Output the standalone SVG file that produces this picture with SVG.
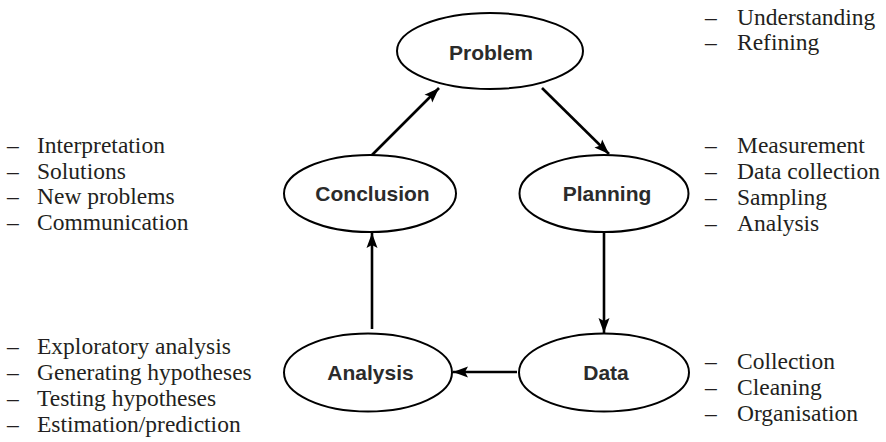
<svg xmlns="http://www.w3.org/2000/svg" width="886" height="442" viewBox="0 0 886 442">
<style>
.node ellipse{fill:#fff;stroke:#000;stroke-width:2}
.node text{font-family:"Liberation Sans",Arial,sans-serif;font-weight:bold;font-size:21px;fill:#2b2b2b;text-anchor:middle}
.conn line{stroke:#000;stroke-width:2.6}
.note text{font-family:"Liberation Serif","Times New Roman",serif;font-size:23.5px;fill:#231f20}
</style>
<defs>
<marker id="ah" markerUnits="userSpaceOnUse" markerWidth="16" markerHeight="12" refX="15" refY="6" orient="auto">
<path d="M0,0.5 L15,6 L0,11.5 L3,6 Z" fill="#000"/>
</marker>
</defs>
<g id="problem" class="node"><ellipse cx="490" cy="51" rx="93" ry="38"/><text x="491" y="59.5">Problem</text></g>
<g id="conclusion" class="node"><ellipse cx="370" cy="193.5" rx="86" ry="38.5"/><text x="372.5" y="201">Conclusion</text></g>
<g id="planning" class="node"><ellipse cx="604" cy="193.5" rx="84.5" ry="38.5"/><text x="607" y="201">Planning</text></g>
<g id="analysis" class="node"><ellipse cx="368" cy="372.5" rx="84" ry="39"/><text x="370.5" y="380">Analysis</text></g>
<g id="data" class="node"><ellipse cx="604" cy="372.5" rx="85" ry="39"/><text x="606" y="380">Data</text></g>
<g id="connectors" class="conn">
<line x1="372" y1="155" x2="439" y2="88" marker-end="url(#ah)"/>
<line x1="542" y1="88" x2="609" y2="154" marker-end="url(#ah)"/>
<line x1="604" y1="232" x2="604" y2="333" marker-end="url(#ah)"/>
<line x1="517" y1="372" x2="453" y2="372" marker-end="url(#ah)"/>
<line x1="372" y1="329" x2="372" y2="233" marker-end="url(#ah)"/>
</g>
<g id="notes-problem" class="note">
<text x="705" y="25">–</text><text x="737" y="25">Understanding</text>
<text x="705" y="50">–</text><text x="737" y="50">Refining</text>
</g>
<g id="notes-conclusion" class="note">
<text x="7" y="153">–</text><text x="37" y="153">Interpretation</text>
<text x="7" y="178.5">–</text><text x="37" y="178.5">Solutions</text>
<text x="7" y="204">–</text><text x="37" y="204">New problems</text>
<text x="7" y="230">–</text><text x="37" y="230">Communication</text>
</g>
<g id="notes-planning" class="note">
<text x="705" y="153">–</text><text x="737" y="153">Measurement</text>
<text x="705" y="179">–</text><text x="737" y="179">Data collection</text>
<text x="705" y="205">–</text><text x="737" y="205">Sampling</text>
<text x="705" y="231">–</text><text x="737" y="231">Analysis</text>
</g>
<g id="notes-analysis" class="note">
<text x="7" y="354">–</text><text x="37" y="354">Exploratory analysis</text>
<text x="7" y="380">–</text><text x="37" y="380">Generating hypotheses</text>
<text x="7" y="406">–</text><text x="37" y="406">Testing hypotheses</text>
<text x="7" y="432">–</text><text x="37" y="432">Estimation/prediction</text>
</g>
<g id="notes-data" class="note">
<text x="705" y="369">–</text><text x="737" y="369">Collection</text>
<text x="705" y="395">–</text><text x="737" y="395">Cleaning</text>
<text x="705" y="421">–</text><text x="737" y="421">Organisation</text>
</g>
</svg>
